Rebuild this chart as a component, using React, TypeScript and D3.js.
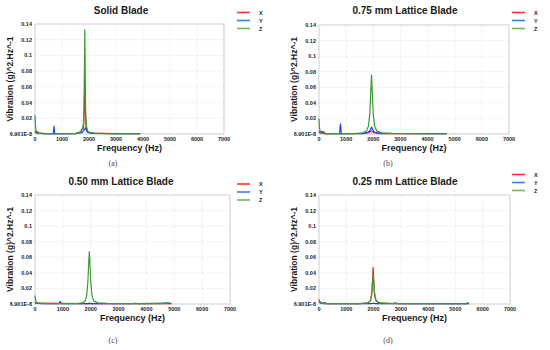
import * as d3 from 'd3';

type Pt = [number, number];

// panel titles and captions
const titles = ['Solid Blade', '0.75 mm Lattice Blade', '0.50 mm Lattice Blade', '0.25 mm Lattice Blade'];
const captions = ['(a)', '(b)', '(c)', '(d)'];
const seriesNames = ['X', 'Y', 'Z'];

const xTicks = [0, 1000, 2000, 3000, 4000, 5000, 6000, 7000];
const xTickLabels = ['0', '1000', '2000', '3000', '4000', '5000', '6000', '7000'];
const yTicks = [0, 0.02, 0.04, 0.06, 0.08, 0.1, 0.12, 0.14];
const yTickLabels = ['6.901E-8', '0.02', '0.04', '0.06', '0.08', '0.1', '0.12', '0.14'];

// (a) solid blade
const solidX: Pt[] = [[0, 0.002], [50, 0.001], [500, 0.0005], [1500, 0.0006], [1650, 0.002], [1720, 0.005], [1750, 0.007], [1775, 0.006], [1800, 0.009], [1825, 0.03], [1845, 0.066], [1865, 0.03], [1890, 0.01], [1930, 0.004], [2000, 0.002], [2200, 0.001], [3000, 0.0005], [3900, 0.0003]];
const solidY: Pt[] = [[0, 0.004], [60, 0.003], [100, 0.003], [125, 0.001], [300, 0.0004], [680, 0.0005], [695, 0.006], [705, 0.01], [715, 0.006], [730, 0.0005], [1500, 0.0005], [1750, 0.002], [1820, 0.005], [1870, 0.008], [1900, 0.005], [1950, 0.002], [2100, 0.0008], [3000, 0.0004], [3900, 0.0003]];
const solidZ: Pt[] = [[0, 0.024], [15, 0.012], [40, 0.003], [100, 0.001], [300, 0.0005], [700, 0.0005], [1000, 0.0004], [1500, 0.0008], [1650, 0.002], [1720, 0.004], [1760, 0.007], [1790, 0.012], [1812, 0.03], [1830, 0.08], [1845, 0.133], [1860, 0.08], [1878, 0.025], [1905, 0.01], [1950, 0.004], [2000, 0.002], [2200, 0.001], [2600, 0.0006], [3000, 0.0005], [3500, 0.0004], [3900, 0.0003]];

// (b) 0.75 mm
const l075X: Pt[] = [[0, 0.002], [50, 0.001], [200, 0.002], [230, 0.0005], [1600, 0.0005], [1850, 0.002], [1930, 0.004], [2000, 0.002], [2200, 0.0006], [4700, 0.0003]];
const l075Y: Pt[] = [[0, 0.003], [100, 0.003], [150, 0.003], [180, 0.0005], [760, 0.0005], [775, 0.008], [790, 0.013], [805, 0.008], [820, 0.0005], [1700, 0.0008], [1850, 0.003], [1900, 0.006], [1935, 0.009], [1970, 0.006], [2050, 0.002], [2300, 0.0007], [4700, 0.0003]];
const l075Z: Pt[] = [[0, 0.02], [15, 0.01], [40, 0.003], [100, 0.001], [300, 0.0005], [800, 0.0004], [1300, 0.0006], [1600, 0.0015], [1750, 0.004], [1820, 0.01], [1870, 0.025], [1910, 0.055], [1935, 0.076], [1960, 0.055], [2000, 0.025], [2050, 0.01], [2130, 0.004], [2300, 0.0015], [2700, 0.0007], [3500, 0.0004], [4700, 0.0003]];

// (c) 0.50 mm
const l050X: Pt[] = [[0, 0.001], [1900, 0.0005], [1950, 0.0012], [2000, 0.0005], [4900, 0.0003]];
const l050Y: Pt[] = [[0, 0.002], [100, 0.001], [200, 0.0005], [880, 0.0005], [900, 0.003], [920, 0.003], [940, 0.0005], [1900, 0.0005], [3500, 0.0004], [3600, 0.001], [3700, 0.0004], [4800, 0.001], [4900, 0.0004]];
const l050Z: Pt[] = [[0, 0.011], [20, 0.006], [50, 0.002], [100, 0.001], [400, 0.0005], [1000, 0.0004], [1500, 0.0006], [1700, 0.0015], [1800, 0.004], [1860, 0.012], [1900, 0.03], [1930, 0.055], [1950, 0.067], [1970, 0.055], [2000, 0.03], [2040, 0.012], [2100, 0.004], [2250, 0.0015], [2600, 0.0007], [3500, 0.0004], [4500, 0.0006], [4700, 0.0012], [4800, 0.0015], [4900, 0.0006]];

// (d) 0.25 mm
const l025X: Pt[] = [[0, 0.006], [20, 0.004], [50, 0.001], [300, 0.0005], [1500, 0.0005], [1800, 0.0015], [1890, 0.004], [1940, 0.015], [1970, 0.035], [1985, 0.047], [2000, 0.035], [2030, 0.015], [2080, 0.005], [2150, 0.003], [2250, 0.001], [3000, 0.0005], [5500, 0.0003]];
const l025Y: Pt[] = [[0, 0.003], [80, 0.002], [180, 0.0005], [200, 0.0005], [220, 0.002], [250, 0.0005], [1900, 0.0005], [2000, 0.001], [2100, 0.0005], [2750, 0.0005], [2800, 0.0015], [2850, 0.0005], [5400, 0.0005], [5450, 0.0015], [5500, 0.0005]];
const l025Z: Pt[] = [[0, 0.004], [30, 0.002], [80, 0.001], [300, 0.0005], [1500, 0.0005], [1800, 0.0015], [1880, 0.004], [1930, 0.012], [1960, 0.028], [1985, 0.038], [2010, 0.028], [2040, 0.012], [2090, 0.004], [2200, 0.0015], [2500, 0.0007], [3500, 0.0004], [5500, 0.0003]];

const panelData: Pt[][][] = [
  [solidX, solidY, solidZ],
  [l075X, l075Y, l075Z],
  [l050X, l050Y, l050Z],
  [l025X, l025Y, l025Z],
];

const colors = ['#ee1c1c', '#1c3cff', '#3a9c34'];
const legendColors = ['#ff3030', '#2f86f0', '#6cc04c'];

// plot boxes for each panel
const boxes = [
  { l: 35, r: 224, t: 24, b: 134, ox: 0, oy: 0, leg: 12.5, cap: 163 },
  { l: 319, r: 509, t: 25, b: 134, ox: 275, oy: 0, leg: 12.5, cap: 163 },
  { l: 35, r: 230, t: 195, b: 304, ox: 0, oy: 175, leg: 184, cap: 340 },
  { l: 319, r: 510, t: 195, b: 304, ox: 275, oy: 175, leg: 174.5, cap: 340 },
];

const font = '"Liberation Sans", Arial, sans-serif';

function Panel({ idx }: { idx: number }) {
  const bx = boxes[idx];
  const x = d3.scaleLinear().domain([0, 7000]).range([bx.l, bx.r]);
  const y = d3.scaleLinear().domain([0, 0.14]).range([bx.b, bx.t]);
  const line = d3.line<Pt>().x(d => x(d[0])).y(d => y(d[1]));
  const cx = (bx.l + bx.r) / 2;
  const legX = bx.ox + 237;

  return (
    <g>
      {xTicks.map(t => (
        <line key={'gx' + t} x1={x(t)} x2={x(t)} y1={bx.t} y2={bx.b} stroke="#ececec" strokeWidth={0.6} />
      ))}
      {yTicks.map(t => (
        <line key={'gy' + t} x1={bx.l} x2={bx.r} y1={y(t)} y2={y(t)} stroke="#ececec" strokeWidth={0.6} />
      ))}
      <rect x={bx.l} y={bx.t} width={bx.r - bx.l} height={bx.b - bx.t} fill="none" stroke="#c8c8c8" strokeWidth={0.8} />
      {panelData[idx].map((s, i) => (
        <path key={i} d={line(s) || ''} fill="none" stroke={colors[i]} strokeWidth={1.2} strokeLinejoin="round" />
      ))}
      {xTicks.map((t, i) => (
        <text key={'xt' + t} x={x(t)} y={bx.b + 7} fontSize={5.5} fontWeight="bold" textAnchor="middle" fill="#222" fontFamily={font}>
          {xTickLabels[i]}
        </text>
      ))}
      {yTicks.map((t, i) => (
        <text key={'yt' + t} x={bx.l - 3} y={y(t) + 2} fontSize={5.5} fontWeight="bold" textAnchor="end" fill="#222" fontFamily={font}>
          {yTickLabels[i]}
        </text>
      ))}
      <text x={cx} y={bx.b + 17} fontSize={9} fontWeight="bold" textAnchor="middle" fill="#1a1a1a" fontFamily={font}>
        Frequency (Hz)
      </text>
      <text
        transform={`translate(${bx.ox + (idx % 2 === 0 ? 13 : 22)},${(bx.t + bx.b) / 2}) rotate(-90)`}
        fontSize={8.5} fontWeight="bold" textAnchor="middle" fill="#1a1a1a" fontFamily={font}
      >
        Vibration (g)^2.Hz^-1
      </text>
      <text x={bx.ox + (idx % 2 === 0 ? 121 : 130)} y={bx.oy + (idx < 2 ? 14 : 10)} fontSize={10} fontWeight="bold" textAnchor="middle" fill="#1a1a1a" fontFamily={font}>
        {titles[idx]}
      </text>
      {seriesNames.map((n, i) => (
        <g key={n}>
          <line x1={legX} x2={legX + 13} y1={bx.leg + i * 8} y2={bx.leg + i * 8} stroke={legendColors[i]} strokeWidth={1.6} />
          <text x={legX + 22} y={bx.leg + i * 8 + 2} fontSize={5.5} fontWeight="bold" fill="#222" fontFamily={font}>{n}</text>
        </g>
      ))}
      <text x={bx.ox + 113} y={bx.cap + 3} fontSize={8} textAnchor="middle" fill="#444" fontFamily='"Liberation Serif", serif'>
        {captions[idx]}
      </text>
    </g>
  );
}

export default function App() {
  return (
    <svg width={550} height={350} style={{ position: 'absolute', left: 0, top: 0, background: '#fff' }}>
      {boxes.map((_, i) => (
        <Panel key={i} idx={i} />
      ))}
    </svg>
  );
}
